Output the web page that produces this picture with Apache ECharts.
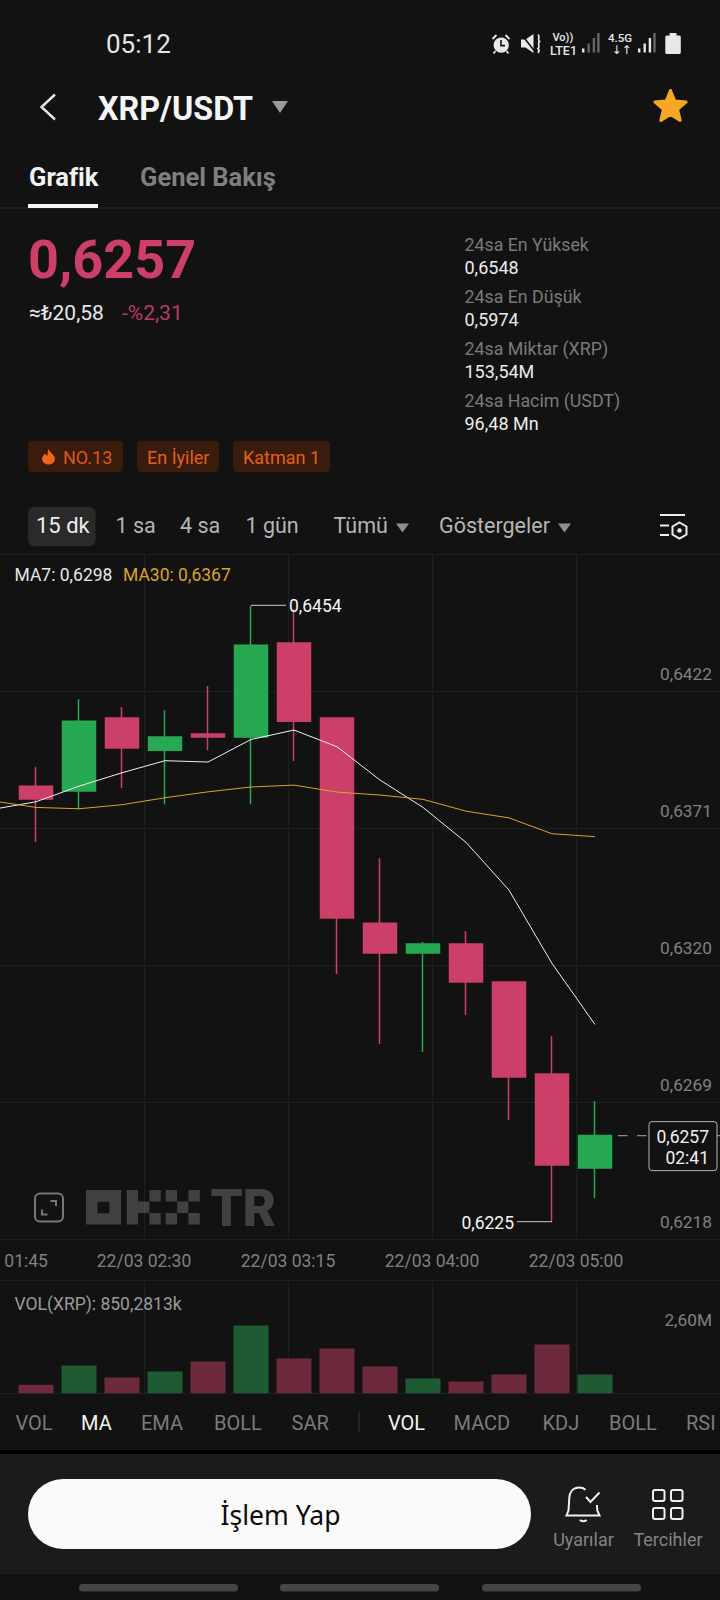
<!DOCTYPE html>
<html lang="tr">
<head>
<meta charset="utf-8">
<title>XRP/USDT</title>
<script src="https://cdn.jsdelivr.net/npm/echarts@6/dist/echarts.min.js"></script>
<style>
html,body{margin:0;padding:0;background:#121212;}
#chart{width:720px;height:1600px;}
</style>
</head>
<body>
<div id="chart"></div>
<script>
// ---------- data ----------
const candleTimes = ['01:30','01:45','02:00','02:15','02:30','02:45','03:00','03:15','03:30','03:45','04:00','04:15','04:30','04:45','05:00','05:15','05:30','05:45'];
// open, close, low, high  (first slot is the off-screen candle, only its MA points are visible)
const candleOpen  = [null,.63867,.63849,.64121,.64001,.64061,.64050,.64400,.64121,.63357,.63246,.63279,.63138,.62795,.62445];
const candleClose = [null,.63819,.64109,.64009,.64050,.64050,.64392,.64109,.63376,.63246,.63279,.63138,.62784,.62457,.62566];
const candleLow   = [null,.63659,.63781,.63860,.63800,.64001,.63800,.63961,.63168,.62907,.62877,.63015,.62624,.62246,.62334];
const candleHigh  = [null,.63938,.64191,.64162,.64150,.64240,.64540,.64526,.64121,.63599,.63287,.63328,.63138,.62937,.62695];
const ma7  = [.63781,.63809,.63867,.63917,.63962,.63957,.64041,.64076,.64014,.63890,.63788,.63658,.63480,.63207,.62980];
const ma30 = [.63812,.63788,.63783,.63798,.63824,.63846,.63864,.63871,.63845,.63834,.63818,.63774,.63749,.63690,.63679];
const volumes = [null,394000,1260000,714000,987000,1441000,3078000,1578000,2033000,1214000,668000,532000,850000,2214000,850281];

const timeTicks = ['01:45','22/03 02:30','22/03 03:15','22/03 04:00','22/03 05:00',''];
const priceGridValues = [.6218,.6269,.6320,.6371,.6422,.6473];
const priceTickValues = [.6218,.6269,.6320,.6371,.6422];
const volumeGridValues = [0,5120000];
const volumeTickValues = [2600000];
const priceExtremes = [[6,.6454,1,'0,6454'],[13,.62246,-1,'0,6225']];
const lastPrice = [[14,.62566,'0,6257','02:41']];

// ---------- look ----------
const RED='#cb3f68', GREEN='#27a852', VRED='#6d2a3c', VGREEN='#1e5b32', GRID='#1c1e28', BG='#121212', AXIS='#808080', GOLD='#d9a42a';
const FF='Roboto';
let iconCount=0;

function T(x,y,text,size,fill,o){o=o||{};return {type:'text',x:x,y:y,z:o.z||50,style:{text:text,fill:fill,fontSize:size,fontFamily:o.font||FF,fontWeight:o.weight||400,align:o.align||'left',verticalAlign:'middle'}};}
function R(x,y,w,h,fill,r,z){return {type:'rect',z:z==null?1:z,shape:{x:x,y:y,width:w,height:h,r:r||0},style:{fill:fill}};}
function P(d,o){const name='icon'+(iconCount++);echarts.graphic.registerShape(name,echarts.graphic.extendPath(d,{}));return {type:name,z:o.z||50,style:{fill:o.fill||'none',stroke:o.stroke||'none',lineWidth:o.lw||1,lineCap:o.cap||'butt',lineJoin:o.join||'miter'}};}
function starPath(cx,cy,ro,ri){let d='';for(let i=0;i<10;i++){const a=-Math.PI/2+i*Math.PI/5,r=i%2?ri:ro;d+=(i?'L':'M')+(cx+r*Math.cos(a)).toFixed(2)+' '+(cy+r*Math.sin(a)).toFixed(2);}return d+'Z';}

function chrome(){
  const e=[];
  // status bar
  e.push(T(106,43.5,'05:12',26,'#e6e6e6'));
  e.push(P('M501.2 37.5a7.6 7.6 0 1 0 .01 0Z',{fill:'#e8e8e8'}));
  e.push(P('M501 40v5.6h4',{stroke:'#121212',lw:1.6}));
  e.push(P('M492.5 39l4-4M509.5 39l-4-4M495.5 51l-2 2.5M506.5 51l2 2.5',{stroke:'#e8e8e8',lw:1.8}));
  e.push(P('M521 39.5h4.5l8 -5.5v19l-8 -5.5h-4.5Z',{fill:'#e8e8e8'}));
  e.push(P('M522 35l14 18',{stroke:'#121212',lw:1.6}));
  e.push(P('M538 34.5c3 3 -1.5 4.5 1.5 7c-3 2.5 1.5 4 -1.5 7c2 1.5 1 3 0 4.5',{stroke:'#e8e8e8',lw:1.7}));
  e.push(T(552.5,37.5,'Vo))',11,'#e8e8e8',{weight:500}));
  e.push(T(550,50,'LTE1',12.5,'#e8e8e8',{weight:500}));
  [[582,48.5,1],[587.5,43.5,0],[592.7,38,0],[597.2,33,0]].forEach(b=>e.push(R(b[0],b[1],2.4,52.5-b[1],b[2]?'#e8e8e8':'#666666',0,50)));
  e.push(T(608,37.5,'4.5G',11.5,'#e8e8e8',{weight:500}));
  e.push(T(611.5,50.3,'↓↑',12,'#e8e8e8',{weight:500,font:'DejaVu Sans'}));
  [[638,48.5,1],[643.5,43.5,1],[648.7,38,1],[653.3,33,0]].forEach(b=>e.push(R(b[0],b[1],2.4,52.5-b[1],b[2]?'#e8e8e8':'#666666',0,50)));
  e.push(P('M669.5 33h7v2.5h3a1.5 1.5 0 0 1 1.3 1.5v15.5a1.5 1.5 0 0 1 -1.5 1.5h-12.5a1.5 1.5 0 0 1 -1.5 -1.5v-15.5a1.5 1.5 0 0 1 1.5 -1.5h3Z',{fill:'#e8e8e8'}));
  // header
  e.push(P('M55 94.5L41.5 107L55 119.5',{stroke:'#e8e8e8',lw:2.4}));
  e.push(T(98,108.5,'XRP/USDT',32.3,'#f5f5f5',{weight:700}));
  e.push(P('M272 101h16l-8 12Z',{fill:'#9a9a9a',join:'round'}));
  e.push(P(starPath(670.5,107,16.5,7.4),{fill:'#f7a823',stroke:'#f7a823',lw:3,join:'round'}));
  // tabs
  e.push(T(29,177,'Grafik',25.5,'#f2f2f2',{weight:700}));
  e.push(T(140,177,'Genel Bakış',25.5,'#7f7f7f',{weight:700}));
  e.push(R(28,204,70,4,'#f5f5f5',0,50));
  e.push(R(0,207.5,720,1,'#2c2c2c',0,2));
  // price block
  e.push(T(28,259,'0,6257',54,RED,{weight:700}));
  e.push(T(29,313,'≈₺20,58',21,'#e8e8e8'));
  e.push(T(122,313,'-%2,31',21,'#b93b60'));
  [['24sa En Yüksek',244.5],['24sa En Düşük',296.5],['24sa Miktar (XRP)',348],['24sa Hacim (USDT)',400]].forEach(r=>e.push(T(464.5,r[1],r[0],17.8,'#7a7a7a')));
  [['0,6548',267.5],['0,5974',319.5],['153,54M',371.5],['96,48 Mn',423.5]].forEach(r=>e.push(T(464.5,r[1],r[0],18,'#ececec')));
  // tags
  e.push(R(28,441,95,31,'#3b1b0b',4,2));e.push(R(137,441,82,31,'#3b1b0b',4,2));e.push(R(233,441,97,31,'#3b1b0b',4,2));
  e.push(P('M48.5 449C50 453 55 455 55 459A6.5 5.6 0 0 1 42 459C42 456.3 44 455.3 45 453.5C46 455 46.5 455.6 47.5 455.6C48 453 47.5 451 48.5 449Z',{fill:'#ef651d'}));
  e.push(T(63,457.5,'NO.13',18,'#d9591b'));
  e.push(T(147,457.5,'En İyiler',18,'#e2601c'));
  e.push(T(243,457.5,'Katman 1',18,'#e2601c'));
  // interval row
  e.push(R(28,507,67.5,39,'#2a2a2a',6,2));
  e.push(T(36,525.5,'15 dk',22,'#eeeeee'));
  e.push(T(115.5,525.5,'1 sa',21.5,'#b5b5b5'));
  e.push(T(180,525.5,'4 sa',21.5,'#b5b5b5'));
  e.push(T(245.5,525.5,'1 gün',21.5,'#b5b5b5'));
  e.push(T(333.5,525.5,'Tümü',21.5,'#b5b5b5'));
  e.push(P('M396 523.5h13l-6.5 9Z',{fill:'#8f8f8f'}));
  e.push(T(439,525.5,'Göstergeler',21.5,'#b5b5b5'));
  e.push(P('M558 523.5h13l-6.5 9Z',{fill:'#8f8f8f'}));
  e.push(P('M660 515h25M660 525.5h9M660 535h9',{stroke:'#ededed',lw:2}));
  e.push(P('M679.5 522.5l7 4v8l-7 4l-7 -4v-8Z',{stroke:'#ededed',lw:2}));
  e.push(P('M679.5 528.2a2.3 2.3 0 1 0 .01 0Z',{fill:'#ededed'}));
  // legends
  e.push(T(14.5,575,'MA7: 0,6298',17.5,'#e6e6e6'));
  e.push(T(123,575,'MA30: 0,6367',17.5,GOLD));
  e.push(T(14.5,1304,'VOL(XRP): 850,2813k',17.5,'#9a9a9a'));
  // watermark
  e.push(P('M40 1193.5h18a5 5 0 0 1 5 5v18a5 5 0 0 1 -5 5h-18a5 5 0 0 1 -5 -5v-18a5 5 0 0 1 5 -5Z',{stroke:'#777777',lw:2,z:3}));
  e.push(P('M50.5 1201h5.5v5M47.5 1214.5h-5.5v-5',{stroke:'#777777',lw:2,z:3}));
  const wm='rgba(255,255,255,0.2)',cw=11.35,cy=[1190,1201.5,1213];
  e.push(P('M86 1190h35v34.5h-35ZM97.5 1201.7v11.6h12v-11.6Z',{fill:wm,z:3}));
  [[126.7,[0,1,2]],[126.7+cw,[1]],[126.7+2*cw,[0,2]],[165.7,[0,2]],[165.7+cw,[1]],[165.7+2*cw,[0,2]]].forEach(c=>c[1].forEach(r=>e.push({type:'rect',z:3,shape:{x:c[0],y:cy[r],width:cw,height:11.5},style:{fill:wm}})));
  e.push(T(210.5,1208,'TR',51,wm,{weight:900,z:3}));
  // indicator row
  [['VOL',15.5,0],['MA',81,1],['EMA',141,0],['BOLL',214,0],['SAR',291.5,0],['VOL',388,1],['MACD',453.5,0],['KDJ',542.5,0],['BOLL',609,0],['RSI',686,0]].forEach(r=>e.push(T(r[1],1423,r[0],20,r[2]?'#f2f2f2':'#7b7b7b')));
  e.push(R(358.5,1412,1,20,'#3a3a3a',0,2));
  // bottom bar
  e.push(R(0,1450,720,4.5,'#000000',0,2));
  e.push(R(0,1454,720,120,'#1b1b1b',0,2));
  e.push(R(28,1479,503,70,'#fafafa',35,3));
  e.push(T(280.5,1515,'İşlem Yap',26.5,'#0b0b0b',{align:'center',font:'Noto Sans'}));
  e.push(P('M579 1487.5c-6 .3 -9.5 4.5 -9.7 10.5l-.8 12.5l-2 5h33l-2.2 -5l-.4 -5.5',{stroke:'#f0f0f0',lw:2}));
  e.push(P('M579 1487.5c2.5 0 5 .8 6.5 2.2',{stroke:'#f0f0f0',lw:2}));
  e.push(P('M586 1497l4.5 5l9 -9.5',{stroke:'#f0f0f0',lw:2}));
  e.push(P('M580 1519.8c1 2 5 2 6.5 0',{stroke:'#f0f0f0',lw:2}));
  [[653,1490],[671,1490],[653,1508],[671,1508]].forEach(b=>e.push({type:'rect',z:50,shape:{x:b[0],y:b[1],width:11.5,height:11,r:2},style:{fill:'none',stroke:'#f0f0f0',lineWidth:2}}));
  e.push(T(583.5,1539,'Uyarılar',18,'#848484',{align:'center'}));
  e.push(T(668,1539,'Tercihler',18,'#848484',{align:'center'}));
  // navigation pills
  [[79,159],[280,159],[482,159]].forEach(b=>e.push(R(b[0],1584,b[1],7.5,'#454545',3.5,2)));
  return e;
}

// ---------- options ----------
const candleData = candleOpen.map((o,i)=> o==null ? ['-','-','-','-'] : [o,candleClose[i],candleLow[i],candleHigh[i]]);
const volData = volumes.map((v,i)=> v==null ? null : {value:v,itemStyle:{color:candleClose[i]>=candleOpen[i]?VGREEN:VRED}});
const comma = v => v.toFixed(4).replace('.',',');

const chart = echarts.init(document.getElementById('chart'),null,{renderer:'svg',width:720,height:1600});
const hiddenX = g => ({type:'category',gridIndex:g,data:candleTimes,boundaryGap:false,show:false});
const backX = (g,labels) => ({type:'category',gridIndex:g,data:timeTicks,boundaryGap:false,
  axisLine:{show:false},axisTick:{show:false},
  axisLabel:{show:labels,interval:0,color:AXIS,fontSize:17.5,fontFamily:FF,margin:13,hideOverlap:false,showMinLabel:true,showMaxLabel:true,alignMinLabel:'left',
    formatter:v=>v===timeTicks[0]?'\u00a0'+v:v},
  splitLine:{show:true,interval:0,showMinLine:false,showMaxLine:false,lineStyle:{color:GRID,width:1}}});

chart.setOption({
  animation:false,
  backgroundColor:BG,
  graphic:{elements:chrome()},
  grid:[
    {left:0,right:0,top:554.4,height:684.9,outerBoundsMode:'none'},
    {left:-7,width:731,top:554.4,height:684.9,outerBoundsMode:'none'},
    {left:0,right:0,top:1280.7,height:112.6,outerBoundsMode:'none'},
    {left:-7,width:731,top:1280.7,height:112.6,outerBoundsMode:'none'}
  ],
  xAxis:[backX(0,true),hiddenX(1),backX(2,false),hiddenX(3)],
  yAxis:[
    {type:'value',gridIndex:0,position:'right',min:.6218,max:.6473,
      axisLine:{show:false},
      axisTick:{show:false,customValues:priceGridValues},
      axisLabel:{inside:true,margin:8,customValues:priceTickValues,verticalAlign:'bottom',lineHeight:18,padding:[0,0,8,0],color:AXIS,fontSize:17.3,fontFamily:FF,formatter:comma,showMinLabel:true,showMaxLabel:true,hideOverlap:false},
      splitLine:{show:true,lineStyle:{color:GRID,width:1}}},
    {type:'value',gridIndex:1,min:.6218,max:.6473,show:false},
    {type:'value',gridIndex:2,position:'right',min:0,max:5120000,
      axisLine:{show:false},
      axisTick:{show:false,customValues:volumeGridValues},
      axisLabel:{inside:true,margin:8,customValues:volumeTickValues,verticalAlign:'bottom',lineHeight:18,padding:[0,0,7,0],color:AXIS,fontSize:17.3,fontFamily:FF,formatter:v=>(v/1e6).toFixed(2).replace('.',',')+'M'},
      splitLine:{show:true,lineStyle:{color:GRID,width:1}}},
    {type:'value',gridIndex:3,min:0,max:5120000,show:false}
  ],
  series:[
    {type:'candlestick',name:'XRP/USDT',xAxisIndex:1,yAxisIndex:1,data:candleData,barWidth:33.5,z:3,
      itemStyle:{color:GREEN,color0:RED,borderColor:GREEN,borderColor0:RED,borderWidth:1.5}},
    {type:'line',name:'MA7',xAxisIndex:1,yAxisIndex:1,data:ma7,showSymbol:false,symbol:'none',z:4,lineStyle:{color:'#f0f0f0',width:1}},
    {type:'line',name:'MA30',xAxisIndex:1,yAxisIndex:1,data:ma30,showSymbol:false,symbol:'none',z:4,lineStyle:{color:GOLD,width:1}},
    {type:'custom',name:'extremes',xAxisIndex:1,yAxisIndex:1,data:priceExtremes,z:5,silent:true,encode:{x:0,y:1},
      renderItem:function(p,api){
        const c=api.coord([api.value(0),api.value(1)]),dir=api.value(2),label=priceExtremes[p.dataIndex][3];
        const end=c[0]+dir*35;
        return {type:'group',children:[
          {type:'line',shape:{x1:c[0],y1:c[1],x2:end,y2:c[1]},style:{stroke:'#a8a8a8',lineWidth:1.2}},
          {type:'text',x:end+dir*3,y:c[1]+1,style:{text:label,fill:'#f5f5f5',fontSize:17.5,fontFamily:FF,align:dir>0?'left':'right',verticalAlign:'middle'}}
        ]};
      }},
    {type:'custom',name:'last price',xAxisIndex:1,yAxisIndex:1,data:lastPrice,z:5,silent:true,encode:{x:0,y:1},
      renderItem:function(p,api){
        const c=api.coord([api.value(0),api.value(1)]),r=lastPrice[p.dataIndex];
        return {type:'group',children:[
          {type:'line',shape:{x1:c[0]+23,y1:c[1],x2:720,y2:c[1]},style:{stroke:'#8a8a8a',lineWidth:1.2,lineDash:[9.5,9.5]}},
          {type:'rect',shape:{x:649,y:c[1]-14,width:68,height:49,r:3},style:{fill:BG,stroke:'#b4b4b4',lineWidth:1}},
          {type:'text',x:709,y:c[1]+1,style:{text:r[2],fill:'#f0f0f0',fontSize:17.5,fontFamily:FF,align:'right',verticalAlign:'middle'}},
          {type:'text',x:709,y:c[1]+22,style:{text:r[3],fill:'#f0f0f0',fontSize:17.5,fontFamily:FF,align:'right',verticalAlign:'middle'}}
        ]};
      }},
    {type:'bar',name:'VOL',xAxisIndex:3,yAxisIndex:3,data:volData,barWidth:35,z:3}
  ]
});
</script>
</body>
</html>
